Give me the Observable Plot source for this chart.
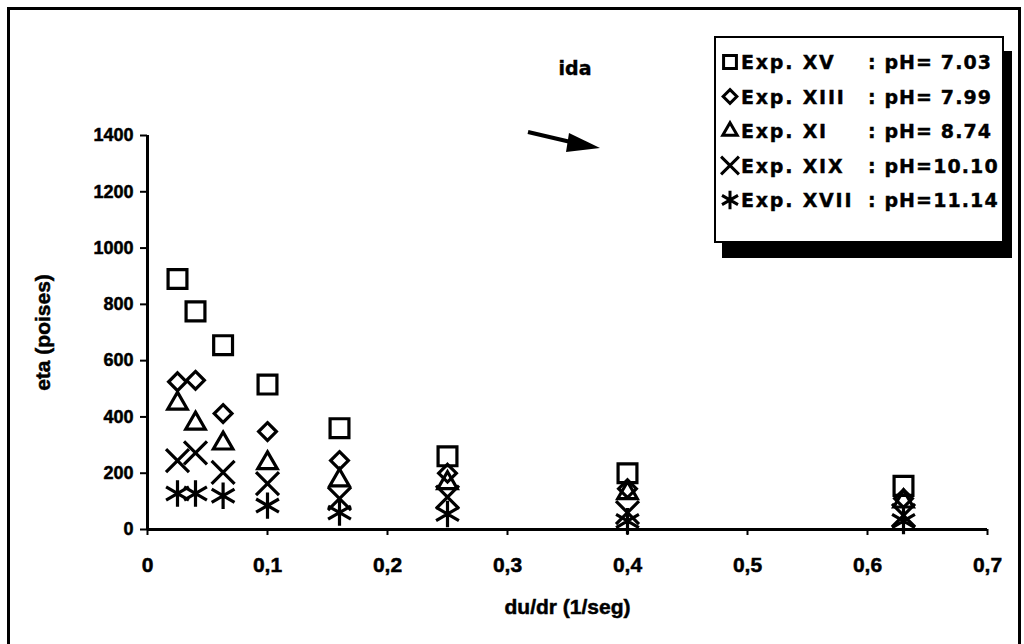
<!DOCTYPE html>
<html>
<head>
<meta charset="utf-8">
<script src="https://cdn.jsdelivr.net/npm/d3@7"></script>
<script src="https://cdn.jsdelivr.net/npm/@observablehq/plot@0.6"></script>
<style>
  html, body { margin: 0; padding: 0; background: #fff; }
  #wrap { position: relative; width: 1024px; height: 644px; overflow: hidden; background: #fff;
          font-family: "Liberation Sans", Arial, sans-serif; font-weight: bold; }
  #frame { position: absolute; left: 7px; top: 7px; width: 1008px; height: 720px;
           border: 3px solid #000; border-bottom: none; pointer-events: none; }
  #legend { position: absolute; left: 714px; top: 36px; width: 286px; height: 203px;
            border: 2.5px solid #000; background: #fff; box-shadow: 8px 15px 0 #000; }
  #over { position: absolute; left: 0; top: 0; }
  #legend text { font-family: "DejaVu Sans", "Liberation Sans", Arial, sans-serif; font-weight: bold; font-size: 19px;
                 stroke: #000; stroke-width: 0.4px; }
</style>
</head>
<body>
<div id="wrap">
  <div id="chart"></div>
  <div id="frame"></div>
  <div id="legend"></div>
  <svg id="over" width="1024" height="644"></svg>
</div>
<script>
// Shear rate (du/dr, 1/seg)
const shear = [0.025, 0.04, 0.063, 0.1, 0.16, 0.25, 0.4, 0.63];
// Viscosity eta (poises) per experiment
const expXV   = [890, 775, 655, 515, 360, 260, 200, 155];
const expXIII = [525, 530, 412, 348, 245, 200, 145, 110];
const expXI   = [448, 377, 306, 236, 175, 165, 130, 100];
const expXIX  = [245, 272, 203, 163, 110, 115, 60, 50];
const expXVII = [128, 128, 120, 85, 60, 55, 30, 30];

const seriesNames = ["Exp. XV", "Exp. XIII", "Exp. XI", "Exp. XIX", "Exp. XVII"];
const seriesPH = [": pH= 7.03", ": pH= 7.99", ": pH= 8.74", ": pH=10.10", ": pH=11.14"];
const seriesValues = [expXV, expXIII, expXI, expXIX, expXVII];

const xTicks = [0, 0.1, 0.2, 0.3, 0.4, 0.5, 0.6, 0.7];
const yTicks = [0, 200, 400, 600, 800, 1000, 1200, 1400];
const titleText = "ida";
const xLabel = "du/dr (1/seg)";
const yLabel = "eta (poises)";

const symbols = ["square2", "diamond2", "triangle2", "times", "asterisk"];
const radii = [12, 8, 9.3, 10.5, 12.5];

const rows = seriesValues.map((vals, i) =>
  shear.map((x, j) => ({series: seriesNames[i], x, y: vals[j]})));

const fmtX = d => d === 0 ? "0" : d.toFixed(1).replace(".", ",");
const fmtY = d => String(d);

const plot = Plot.plot({
  width: 1024,
  height: 644,
  marginLeft: 147,
  marginRight: 37,
  marginTop: 135,
  marginBottom: 115,
  style: {fontFamily: '"Liberation Sans", Arial, sans-serif', fontWeight: "bold", color: "#000", background: "transparent"},
  x: {domain: [0, 0.7]},
  y: {domain: [0, 1400]},
  marks: [
    Plot.axisX({ticks: xTicks, tickFormat: fmtX, tickSize: 6, tickPadding: 22, strokeWidth: 2,
      fontSize: 21, fontWeight: "bold",
      label: null}),
    Plot.axisY({ticks: yTicks, tickFormat: fmtY, tickSize: 7, tickPadding: 7, strokeWidth: 2,
      fontSize: 18, fontWeight: "bold",
      label: null}),
    Plot.axisX({ticks: [], label: xLabel, labelAnchor: "center", labelArrow: "none", labelOffset: 84,
      fontSize: 21, fontWeight: "bold", tickSize: 0}),
    Plot.axisY({ticks: [], label: yLabel, labelAnchor: "center", labelArrow: "none", labelOffset: 112,
      fontSize: 21, fontWeight: "bold", tickSize: 0}),
    Plot.ruleX([0], {y1: 0, y2: 1400, strokeWidth: 3}),
    Plot.ruleY([0], {x1: 0, x2: 0.7, strokeWidth: 3}),
    ...rows.map((data, i) => Plot.dot(data, {x: "x", y: "y", symbol: () => symbols[i], r: radii[i],
      stroke: "#000", strokeWidth: 3.2, fill: "none"}))
  ]
});
document.getElementById("chart").appendChild(plot);
// heavier, scan-like text
d3.select(plot).selectAll("text").style("stroke", "#000").style("stroke-width", "0.5px").style("fill", "#000");

// overlay: title "ida" and arrow
const over = d3.select("#over");
over.append("text").attr("x", 575).attr("y", 75).attr("text-anchor", "middle")
  .attr("font-family", '"DejaVu Sans", "Liberation Sans", Arial, sans-serif').attr("font-weight", "bold")
  .attr("font-size", 19).attr("stroke", "#000").attr("stroke-width", 0.4).text(titleText);
over.append("line").attr("x1", 528).attr("y1", 132).attr("x2", 575).attr("y2", 143)
  .attr("stroke", "#000").attr("stroke-width", 4);
over.append("path").attr("d", "M569,133 L600,148 L566,152 Z").attr("fill", "#000");

// legend
const leg = d3.select("#legend").append("svg").attr("width", 286).attr("height", 203);
const legSym = [d3.symbolSquare2, d3.symbolDiamond2, d3.symbolTriangle2, d3.symbolTimes, d3.symbolAsterisk];
const legSize = [210, 120, 150, 210, 240];
seriesNames.forEach((name, i) => {
  const cy = 24 + i * 34.5;
  leg.append("path").attr("transform", `translate(14,${cy})`)
    .attr("d", d3.symbol(legSym[i], legSize[i])()).attr("fill", "none")
    .attr("stroke", "#000").attr("stroke-width", 3);
  leg.append("text").attr("x", 25).attr("y", cy + 7).style("letter-spacing", "1.8px").text(name);
  leg.append("text").attr("x", 152).attr("y", cy + 7).style("letter-spacing", "1.1px").text(seriesPH[i]);
});
</script>
</body>
</html>
